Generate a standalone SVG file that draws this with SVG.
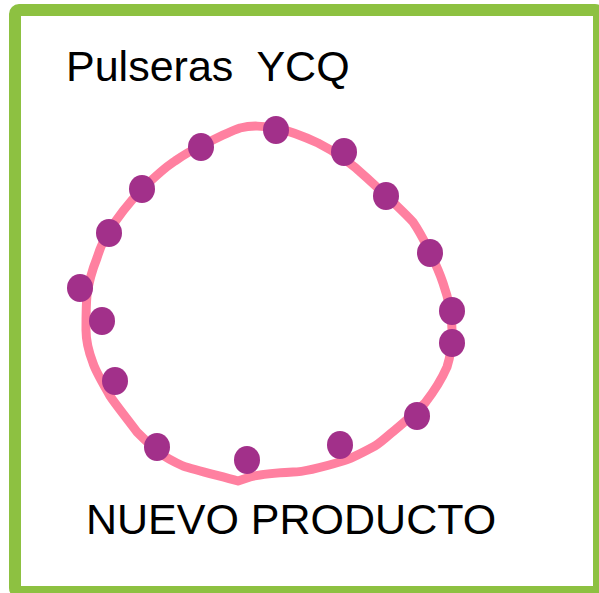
<svg xmlns="http://www.w3.org/2000/svg" width="599" height="593" viewBox="0 0 599 593">
  <style>
    .lbl { font-family: "Liberation Sans", Arial, sans-serif; font-size: 43px; fill: #000000; }
    .bead { fill: #A2308A; }
  </style>
  <rect x="0" y="0" width="599" height="593" fill="#ffffff"/>
  <rect id="frame" x="15" y="10" width="584" height="582" rx="4" fill="#ffffff" stroke="#8DC141" stroke-width="12"/>
  <text id="title" class="lbl" x="66" y="81" xml:space="preserve">Pulseras  YCQ</text>
  <path id="loop" fill="none" stroke="#FF80A0" stroke-width="9" stroke-linejoin="round" stroke-linecap="round"
        d="M276,128 C290,131 305,137 318,143 C330,149 348,160 367,178 C380,190 400,208 413,222 C422,235 437,265 443,283 C449,300 452,318 452,330 C452,345 450,358 447,367 C440,383 432,394 425,403 C417,411 407,420 395,430 C385,438 378,445 373,447 C360,454 350,459 343,461 C320,468 300,472 293,472 C275,473 260,474 250,477 L238,481 C220,476 195,470 183,466 C172,461 165,457 160,453 C150,445 143,438 137,432 C125,416 116,405 110,396 C101,380 95,370 93,363 C88,350 86,340 86,330 C86,315 86,305 87,295 C89,280 93,268 97,258 C101,245 105,237 110,230 C117,218 127,205 142,189 C155,177 165,167 175,161 C185,154 192,150 201,146 C215,139 228,132 240,128 C252,125 262,126 276,128 Z"/>
  <g id="beads">
    <ellipse class="bead" cx="276" cy="130" rx="13" ry="14"/>
    <ellipse class="bead" cx="344" cy="152" rx="13" ry="14"/>
    <ellipse class="bead" cx="386" cy="196" rx="13" ry="14"/>
    <ellipse class="bead" cx="430" cy="253" rx="13" ry="14"/>
    <ellipse class="bead" cx="452" cy="311" rx="13" ry="14"/>
    <ellipse class="bead" cx="452" cy="343" rx="13" ry="14"/>
    <ellipse class="bead" cx="417" cy="416" rx="13" ry="14"/>
    <ellipse class="bead" cx="340" cy="445" rx="13" ry="14"/>
    <ellipse class="bead" cx="247" cy="460" rx="13" ry="14"/>
    <ellipse class="bead" cx="157" cy="447" rx="13" ry="14"/>
    <ellipse class="bead" cx="115" cy="381" rx="13" ry="14"/>
    <ellipse class="bead" cx="102" cy="321" rx="13" ry="14"/>
    <ellipse class="bead" cx="80" cy="288" rx="13" ry="14"/>
    <ellipse class="bead" cx="109" cy="233" rx="13" ry="14"/>
    <ellipse class="bead" cx="142" cy="189" rx="13" ry="14"/>
    <ellipse class="bead" cx="201" cy="147" rx="13" ry="14"/>
  </g>
  <text id="subtitle" class="lbl" x="86" y="534">NUEVO PRODUCTO</text>
</svg>
